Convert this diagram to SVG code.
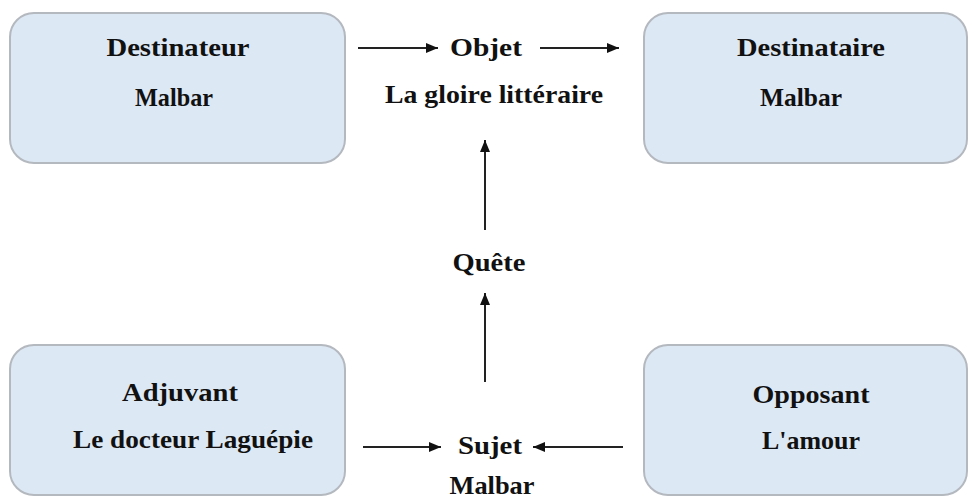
<svg xmlns="http://www.w3.org/2000/svg" width="968" height="499" viewBox="0 0 968 499">
<style>
.box{fill:#dde8f5;stroke:#b4b8bf;stroke-width:2}
.t{font-family:'Liberation Serif','Times New Roman',Times,serif;font-weight:700;font-size:26px;fill:#111;text-anchor:middle}
.c{stroke:#222;stroke-width:2;fill:none;marker-end:url(#ah)}
</style>
<defs>
<marker id="ah" viewBox="0 0 12 10" refX="12" refY="5" markerWidth="12" markerHeight="10" markerUnits="userSpaceOnUse" orient="auto">
<path d="M0,0 L12,5 L0,10 Z" fill="#111"/>
</marker>
</defs>
<rect width="968" height="499" fill="#fff"/>
<g id="destinateur">
<rect class="box" x="10" y="13" width="335" height="150" rx="24"/>
<text class="t" x="178" y="56" textLength="143" lengthAdjust="spacingAndGlyphs">Destinateur</text>
<text class="t" x="174" y="106" textLength="78" lengthAdjust="spacingAndGlyphs">Malbar</text>
</g>
<g id="destinataire">
<rect class="box" x="644" y="13" width="323" height="150" rx="24"/>
<text class="t" x="811" y="56" textLength="148" lengthAdjust="spacingAndGlyphs">Destinataire</text>
<text class="t" x="801" y="106" textLength="82" lengthAdjust="spacingAndGlyphs">Malbar</text>
</g>
<g id="adjuvant">
<rect class="box" x="10" y="345" width="335" height="150" rx="24"/>
<text class="t" x="180" y="401" textLength="116" lengthAdjust="spacingAndGlyphs">Adjuvant</text>
<text class="t" x="193" y="448" textLength="240" lengthAdjust="spacingAndGlyphs">Le docteur Laguépie</text>
</g>
<g id="opposant">
<rect class="box" x="644" y="345" width="323" height="150" rx="24"/>
<text class="t" x="811" y="403" textLength="117" lengthAdjust="spacingAndGlyphs">Opposant</text>
<text class="t" x="811" y="449" textLength="98" lengthAdjust="spacingAndGlyphs">L'amour</text>
</g>
<g id="objet">
<text class="t" x="486" y="56" textLength="72" lengthAdjust="spacingAndGlyphs">Objet</text>
<text class="t" x="494" y="103" textLength="218" lengthAdjust="spacingAndGlyphs">La gloire littéraire</text>
</g>
<g id="quete">
<text class="t" x="489" y="271" textLength="73" lengthAdjust="spacingAndGlyphs">Quête</text>
</g>
<g id="sujet">
<text class="t" x="490" y="454" textLength="64" lengthAdjust="spacingAndGlyphs">Sujet</text>
<text class="t" x="492" y="494" textLength="85" lengthAdjust="spacingAndGlyphs">Malbar</text>
</g>
<g id="connectors">
<line class="c" x1="358" y1="48" x2="438" y2="48"/>
<line class="c" x1="540" y1="48" x2="619" y2="48"/>
<line class="c" x1="485" y1="230" x2="485" y2="140"/>
<line class="c" x1="485" y1="382" x2="485" y2="293"/>
<line class="c" x1="363" y1="447" x2="441" y2="447"/>
<line class="c" x1="623" y1="447" x2="533" y2="447"/>
</g>
</svg>
